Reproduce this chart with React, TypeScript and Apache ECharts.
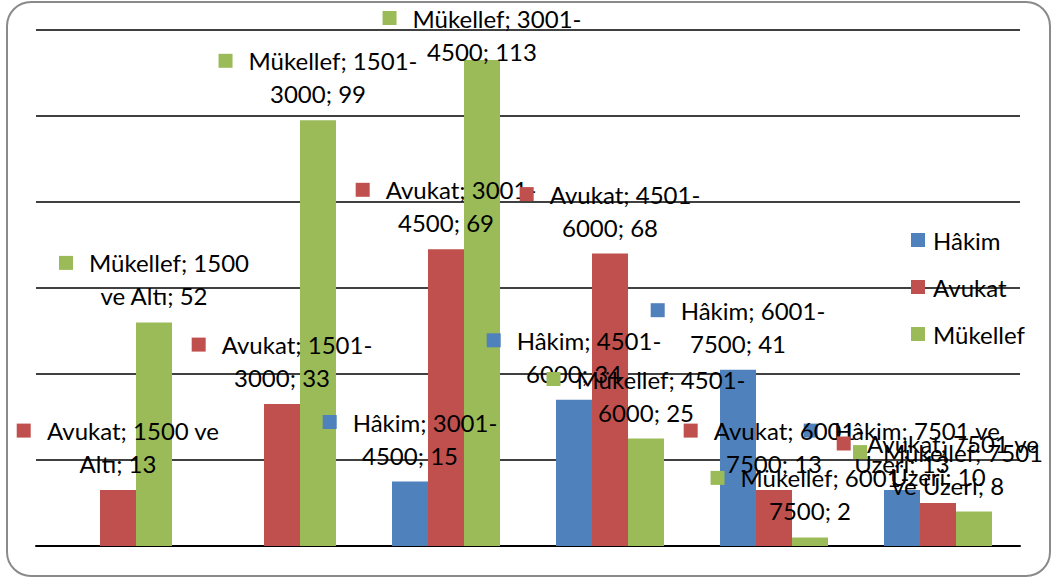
import React, { useEffect, useRef } from "react";
import * as echarts from "echarts";

const categories = ["1500 ve Altı", "1501-3000", "3001-4500", "4501-6000", "6001-7500", "7501 ve Üzeri"];
const seriesNames = ["Hâkim", "Avukat", "Mükellef"];
const hakim = [null, null, 15, 34, 41, 13];
const avukat = [13, 33, 69, 68, 13, 10];
const mukellef = [52, 99, 113, 25, 2, 8];
const colors = ["#4F81BD", "#C0504D", "#9BBB59"];

const FONT = "Lato, 'Liberation Sans', sans-serif";
const FS = 24;

function wrap(s: string, max: number): string[] {
  const tokens = s.match(/[^ -]*[ -]|[^ -]+$/g) || [s];
  const lines: string[] = [];
  let cur = "";
  for (const t of tokens) {
    if (cur && (cur + t).trimEnd().length > max) {
      lines.push(cur.trimEnd());
      cur = t;
    } else {
      cur += t;
    }
  }
  if (cur.trim()) lines.push(cur.trimEnd());
  return lines;
}

export default function App() {
  const ref = useRef<HTMLDivElement>(null);
  useEffect(() => {
    if (!ref.current) return;
    const chart = echarts.init(ref.current, null, { renderer: "svg" });
    const rich: any = {
      gap: { width: 16 },
      t: { fontSize: FS, fontFamily: FONT, color: "#000", lineHeight: 33 },
    };
    colors.forEach((c, i) => {
      rich["sq" + i] = { width: 14, height: 14, backgroundColor: c };
    });
    const dataSets = [hakim, avukat, mukellef];
    chart.setOption({
      animation: false,
      backgroundColor: "#fff",
      color: colors,
      grid: { left: 36, right: 34, top: 30, bottom: 35 },
      graphic: [
        {
          type: "rect",
          shape: { x: 7, y: 2, width: 1043, height: 574, r: 24 },
          style: { fill: "none", stroke: "#8a8a8a", lineWidth: 2 },
          silent: true,
          z: 0,
        },
      ],
      legend: {
        orient: "vertical",
        left: 906,
        top: 223,
        itemWidth: 14,
        itemHeight: 14,
        itemGap: 23,
        icon: "rect",
        data: seriesNames,
        textStyle: { fontSize: FS, fontFamily: FONT, color: "#000", lineHeight: 24, padding: [0, 0, 0, 3] },
      },
      xAxis: {
        type: "category",
        data: categories,
        axisLabel: { show: false },
        axisTick: { show: false },
        axisLine: { lineStyle: { color: "#000", width: 2 } },
      },
      yAxis: {
        type: "value",
        min: 0,
        max: 120,
        interval: 20,
        axisLabel: { show: false },
        axisLine: { show: false },
        axisTick: { show: false },
        splitLine: { lineStyle: { color: "#000", width: 1.5 } },
      },
      series: seriesNames.map((name, i) => ({
        name,
        type: "bar",
        data: dataSets[i],
        barWidth: 36,
        barGap: "0%",
        itemStyle: { color: colors[i] },
        labelLayout: (p: any) => {
          const r = p.labelRect;
          if (!r) return {};
          const out: any = {};
          if (r.y < 6) out.dy = 6 - r.y;
          const right = r.x + r.width;
          if (right > 1043) out.dx = 1043 - right;
          return out;
        },
        label: {
          show: true,
          position: "top",
          distance: 10,
          align: "center",
          rich,
          formatter: (p: any) => {
            const lines = wrap(`${p.seriesName}; ${p.name}; ${p.value}`, 16);
            return lines
              .map((l, k) => (k === 0 ? `{sq${p.seriesIndex}|}{gap|}{t|${l}}` : `{t|${l}}`))
              .join("\n");
          },
        },
      })),
    });
    return () => chart.dispose();
  }, []);
  return (
    <div
      ref={ref}
      style={{ position: "absolute", left: 0, top: 0, width: 1054, height: 581, background: "#fff" }}
    />
  );
}
